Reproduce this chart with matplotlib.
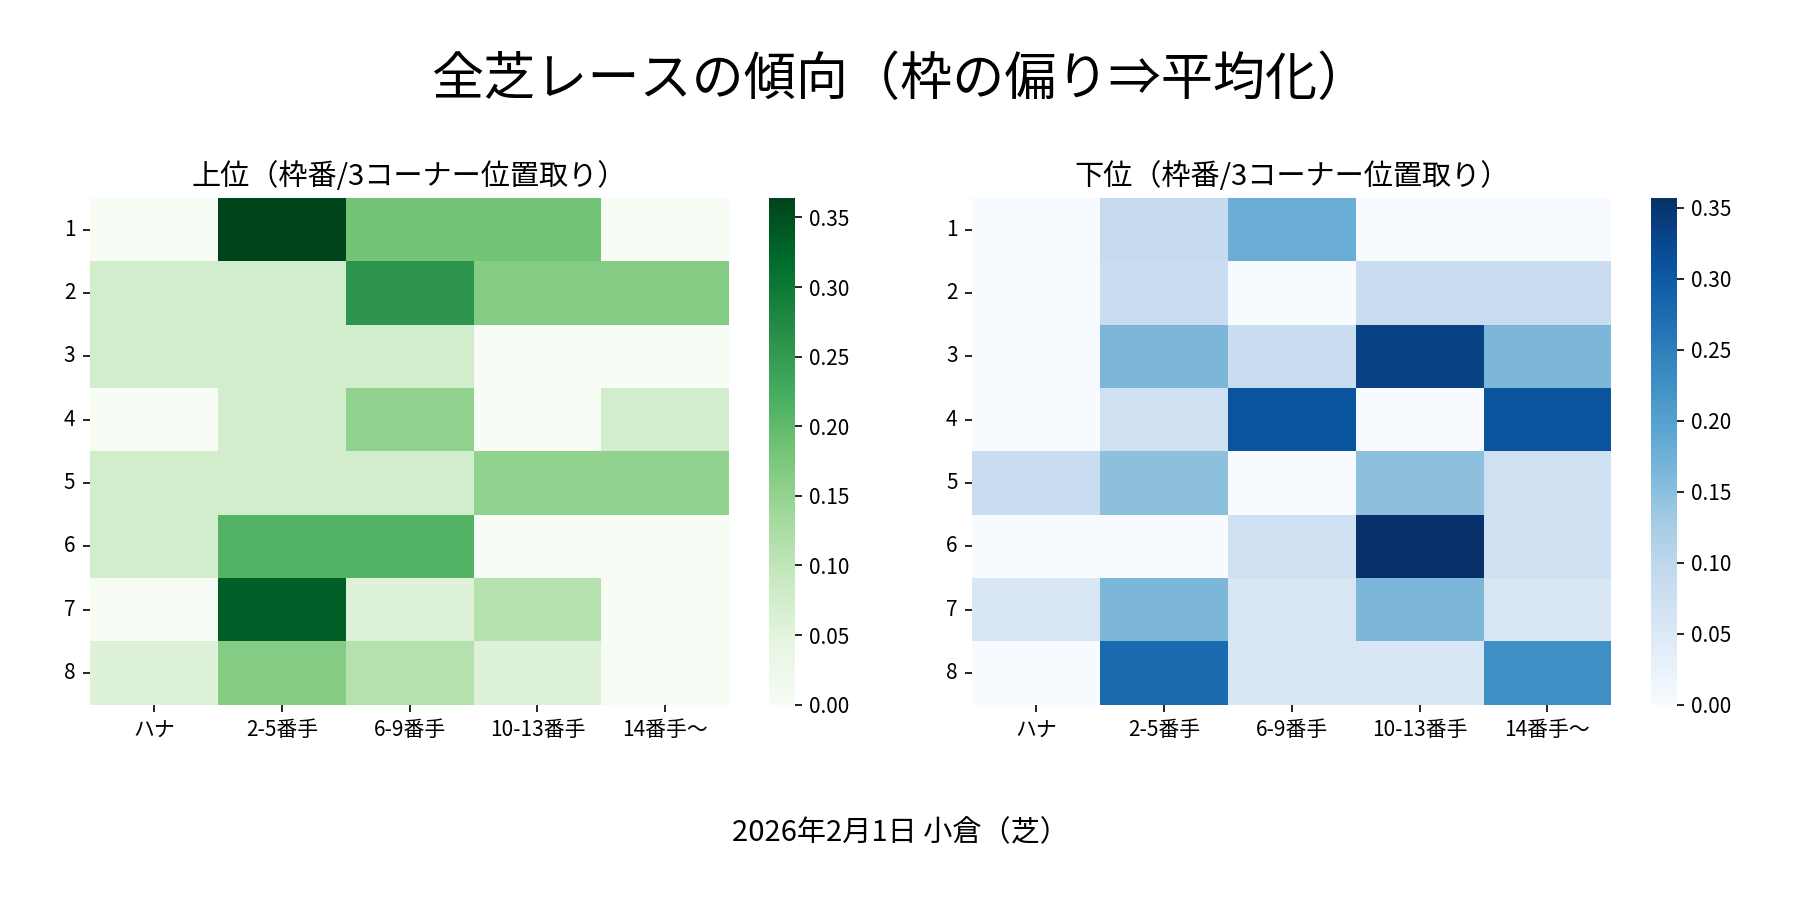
import numpy as np
import pandas as pd
import seaborn as sns
from matplotlib import pyplot as plt

plt.rcParams['font.family'] = ['Noto Sans CJK JP', 'DejaVu Sans']

frames = ["1", "2", "3", "4", "5", "6", "7", "8"]
positions = ["ハナ", "2-5番手", "6-9番手", "10-13番手", "14番手〜"]

# 上位 (rows = 枠番, cols = 3コーナー位置取り)
upper = [
    [0.000, 0.364, 0.182, 0.182, 0.000],
    [0.076, 0.076, 0.260, 0.166, 0.166],
    [0.076, 0.076, 0.076, 0.000, 0.000],
    [0.000, 0.076, 0.152, 0.000, 0.076],
    [0.076, 0.076, 0.076, 0.152, 0.152],
    [0.076, 0.213, 0.213, 0.000, 0.000],
    [0.000, 0.335, 0.058, 0.114, 0.000],
    [0.058, 0.166, 0.114, 0.058, 0.000],
]

# 下位
lower = [
    [0.000, 0.089, 0.179, 0.000, 0.000],
    [0.000, 0.083, 0.000, 0.083, 0.083],
    [0.000, 0.164, 0.083, 0.333, 0.164],
    [0.000, 0.074, 0.307, 0.000, 0.307],
    [0.083, 0.150, 0.000, 0.150, 0.074],
    [0.000, 0.000, 0.074, 0.357, 0.074],
    [0.055, 0.164, 0.055, 0.164, 0.055],
    [0.000, 0.278, 0.055, 0.055, 0.226],
]

title = "全芝レースの傾向（枠の偏り⇒平均化）"
footer = "2026年2月1日 小倉（芝）"

df_up = pd.DataFrame(upper, index=frames, columns=positions)
df_low = pd.DataFrame(lower, index=frames, columns=positions)

fig, axes = plt.subplots(1, 2, figsize=(12, 6), dpi=150)
fig.subplots_adjust(left=0.05, right=0.984, bottom=0.217, top=0.78, wspace=0.104)

sns.heatmap(df_up, cmap="Greens", ax=axes[0])
axes[0].set_title("上位（枠番/3コーナー位置取り）", fontsize=14)
sns.heatmap(df_low, cmap="Blues", ax=axes[1])
axes[1].set_title("下位（枠番/3コーナー位置取り）", fontsize=14)

for ax in axes:
    ax.set_xlabel("")
    ax.set_ylabel("")
    ax.tick_params(axis="y", rotation=0)
    ax.tick_params(axis="x", rotation=0)

fig.suptitle(title, fontsize=25, y=0.94)
fig.text(0.5, 0.074, footer, ha="center", va="center", fontsize=14)

fig.savefig("out.png")
